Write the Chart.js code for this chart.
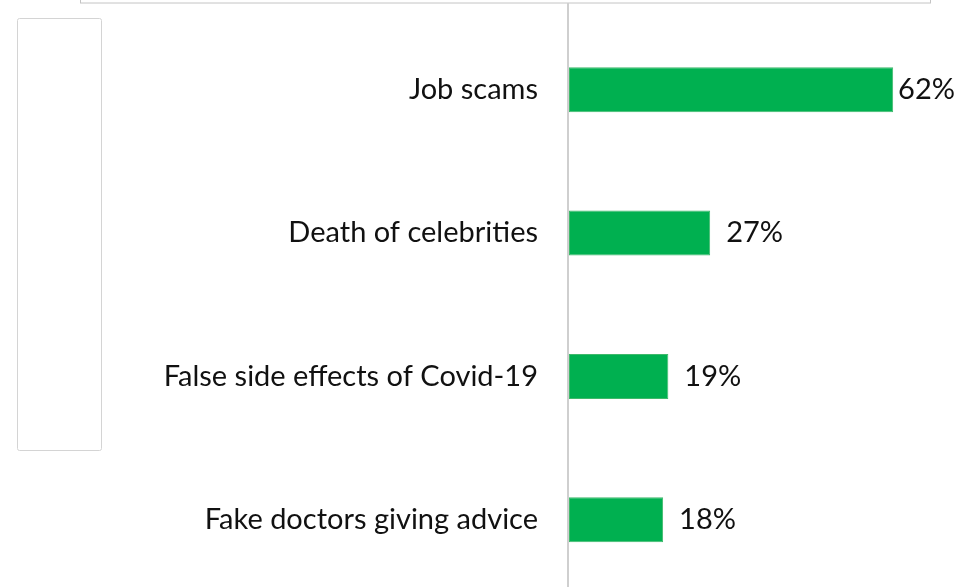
<!DOCTYPE html>
<html>
<head>
<meta charset="utf-8">
<script src="https://cdn.jsdelivr.net/npm/chart.js@4"></script>
<style>
  html, body { margin: 0; padding: 0; background: #fff; overflow: hidden; }
  #wrap { position: relative; width: 958px; height: 593px; }
</style>
</head>
<body>
<div id="wrap"><canvas id="c"></canvas></div>
<script>
// Share of respondents who saw each kind of fake news
const categories = ['Job scams', 'Death of celebrities', 'False side effects of Covid-19', 'Fake doctors giving advice'];
const shares = [62, 27, 19, 18];

const FONT = 'Lato';
const FONT_SIZE = 29;
const TEXT_COLOR = '#111';

// Frames behind the plot plus the full-height baseline and the value labels
const decor = {
  id: 'decor',
  beforeDraw(chart) {
    const ctx = chart.ctx;
    ctx.save();
    ctx.strokeStyle = '#c4c4c4';
    ctx.lineWidth = 1;
    ctx.strokeRect(80.5, -5.5, 850, 8.5);
    ctx.strokeStyle = '#d4d4d4';
    ctx.beginPath();
    if (ctx.roundRect) ctx.roundRect(17.5, 18.5, 84, 432, 2); else ctx.rect(17.5, 18.5, 84, 432);
    ctx.stroke();
    ctx.restore();
  },
  afterDatasetsDraw(chart) {
    const ctx = chart.ctx;
    const x0 = chart.scales.x.getPixelForValue(0);
    ctx.save();
    ctx.strokeStyle = '#cfcfcf';
    ctx.lineWidth = 2;
    ctx.beginPath();
    ctx.moveTo(x0 - 1, 3);
    ctx.lineTo(x0 - 1, chart.height);
    ctx.stroke();

    ctx.font = FONT_SIZE + 'px ' + FONT;
    ctx.fillStyle = TEXT_COLOR;
    ctx.textBaseline = 'middle';
    ctx.textAlign = 'left';
    const meta = chart.getDatasetMeta(0);
    meta.data.forEach((bar, i) => {
      const txt = shares[i] + '%';
      const w = ctx.measureText(txt).width;
      const x = Math.min(bar.x + 16, chart.width - w - 3);
      ctx.fillText(txt, x, bar.y);
    });
    ctx.restore();
  }
};

new Chart(document.getElementById('c'), {
  type: 'bar',
  data: {
    labels: categories,
    datasets: [{
      data: shares,
      backgroundColor: '#00b050',
      borderColor: '#3fb96b',
      borderWidth: 1,
      borderSkipped: false,
      categoryPercentage: 1,
      barPercentage: 0.314
    }]
  },
  options: {
    indexAxis: 'y',
    responsive: true,
    maintainAspectRatio: false,
    animation: false,
    layout: { padding: { top: 18, right: 23, bottom: 0, left: 0 } },
    plugins: { legend: { display: false }, tooltip: { enabled: false } },
    scales: {
      x: { display: false, min: 0, max: 70 },
      y: {
        grid: { display: false, drawTicks: true, tickLength: 31 },
        border: { display: false },
        ticks: {
          padding: 0,
          color: TEXT_COLOR,
          font: { family: FONT, size: FONT_SIZE, lineHeight: 0.1 }
        },
        afterFit(scale) { scale.width = 569; }
      }
    }
  },
  plugins: [decor]
});
</script>
</body>
</html>
